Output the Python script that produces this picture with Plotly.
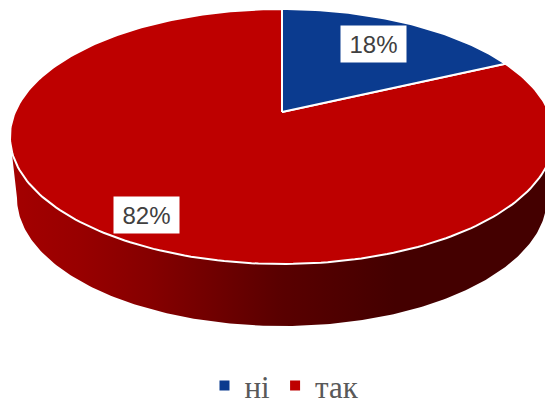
import numpy as np
import plotly.graph_objects as go

categories = ["ні", "так"]
values = [18, 82]
slice_colors = ["#0B3B8F", "#BE0000"]
label_positions = [(373.5, 44), (146.5, 215)]
wall_stops = [(0.0, "#A40000"), (0.13, "#980000"), (0.26, "#860000"), (0.5, "#5A0000"), (0.72, "#440000"), (1.0, "#440000")]

# Pie top seen in perspective (pixel geometry of the drawing)
APEX_X, APEX_Y = 282.0, 112.0
A, B, C = 267.0, 122.8, 0.192
TOP_CY, TOP_RX, TOP_RY = 136.5, 272.0, 127.5
BOT_CY, BOT_RX, BOT_RY = 198.0, 265.0, 128.0


def project(fraction, r=1.0):
    t = 2 * np.pi * np.asarray(fraction)
    u, v = r * np.sin(t), r * np.cos(t)
    d = 1 + C * v
    return APEX_X + A * u / d, APEX_Y - B * v / d


def slice_path(f0, f1):
    n = max(int((f1 - f0) * 300), 2)
    x, y = project(np.linspace(f0, f1, n))
    return [APEX_X, *x, APEX_X], [APEX_Y, *y, APEX_Y]


phi = np.linspace(np.pi, 0, 200)
top_x = 282 + TOP_RX * np.cos(phi)
top_y = TOP_CY + TOP_RY * np.sin(phi)
bot_x = 282 + BOT_RX * np.cos(phi[::-1])
bot_y = BOT_CY + BOT_RY * np.sin(phi[::-1])

fig = go.Figure()

fig.add_trace(go.Scatter(
    x=[*top_x, *bot_x, top_x[0]], y=[*top_y, *bot_y, top_y[0]],
    mode="lines", fill="toself", line=dict(width=0),
    fillgradient=dict(type="horizontal", colorscale=wall_stops, start=10, stop=545),
    hoverinfo="skip", showlegend=False,
))

total = sum(values)
edges = np.cumsum([0] + values) / total
order = [1, 0]
for i in order:
    px, py = slice_path(edges[i], edges[i + 1])
    fig.add_trace(go.Scatter(
        x=px, y=py, mode="lines", fill="toself", fillcolor=slice_colors[i],
        line=dict(color="white", width=2), name=categories[i],
        hoverinfo="name", showlegend=False,
    ))

for name, color in zip(categories, slice_colors):
    fig.add_trace(go.Scatter(
        x=[None], y=[None], mode="markers", name=name,
        marker=dict(symbol="square", size=10, color=color),
    ))

annotations = [
    dict(x=x, y=y, xref="x", yref="y", text=f"{v}%", showarrow=False,
         bgcolor="white", width=65, height=36, borderpad=0,
         font=dict(family="Liberation Sans", size=24, color="#404040"))
    for v, (x, y) in zip(values, label_positions)
]

fig.update_layout(
    width=545, height=405, margin=dict(l=0, r=0, t=0, b=0, autoexpand=False),
    paper_bgcolor="white", plot_bgcolor="white",
    xaxis=dict(range=[0, 545], visible=False, fixedrange=True),
    yaxis=dict(range=[405, 0], visible=False, fixedrange=True),
    annotations=annotations,
    legend=dict(orientation="h", x=0.522, xanchor="center", y=0.047, yanchor="middle",
                font=dict(family="Liberation Serif", size=31, color="#595959"),
                itemwidth=30, bgcolor="rgba(0,0,0,0)"),
)

fig.write_html("out.html", config={"displayModeBar": False},
               post_script="document.body.style.margin='0';document.documentElement.style.overflow='hidden';")
